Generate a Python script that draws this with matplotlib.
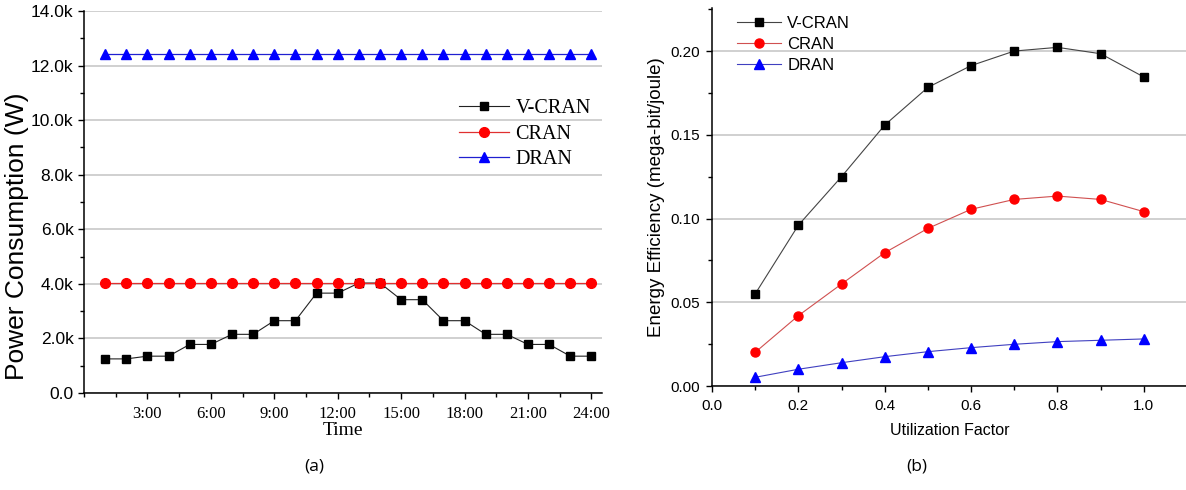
import matplotlib
matplotlib.use("Agg")
import matplotlib.pyplot as plt
from matplotlib.ticker import MultipleLocator, FuncFormatter

# ---- data: panel (a) ----
hours = list(range(1, 25))
time_ticks = [3, 6, 9, 12, 15, 18, 21, 24]
time_labels = ["3:00", "6:00", "9:00", "12:00", "15:00", "18:00", "21:00", "24:00"]
vcran_power = [1.25, 1.25, 1.35, 1.35, 1.78, 1.78, 2.15, 2.15, 2.65, 2.65, 3.66, 3.66,
               4.03, 4.03, 3.42, 3.42, 2.65, 2.65, 2.15, 2.15, 1.78, 1.78, 1.35, 1.35]
cran_power = [4.04] * 24
dran_power = [12.42] * 24

# ---- data: panel (b) ----
util = [0.1, 0.2, 0.3, 0.4, 0.5, 0.6, 0.7, 0.8, 0.9, 1.0]
vcran_ee = [0.055, 0.096, 0.125, 0.1558, 0.1783, 0.1913, 0.200, 0.2022, 0.1984, 0.1845]
cran_ee = [0.0201, 0.042, 0.0609, 0.0796, 0.0941, 0.1055, 0.1114, 0.1134, 0.1114, 0.1041]
dran_ee = [0.0052, 0.0100, 0.0139, 0.0175, 0.0205, 0.0229, 0.0249, 0.0265, 0.0273, 0.0281]
series = ["V-CRAN", "CRAN", "DRAN"]

W, H = 1186, 490
fig = plt.figure(figsize=(W / 100, H / 100), dpi=100)

def box(l, t, r, b):
    return [l / W, 1 - b / H, (r - l) / W, (b - t) / H]

ax1 = fig.add_axes(box(84, 11, 602, 393))
ax2 = fig.add_axes(box(712, 8, 1187, 386))

for ax in (ax1, ax2):
    for s in ("top", "right"):
        ax.spines[s].set_visible(False)
    for s in ("left", "bottom"):
        ax.spines[s].set_linewidth(1.1)
    ax.tick_params(which="major", direction="out", length=4.5, width=1.0, pad=4)
    ax.tick_params(which="minor", direction="out", length=3, width=1.0)
    ax.yaxis.grid(True, which="major", color="#c4c4c4", linewidth=1.1)
    ax.set_axisbelow(True)

# ---- panel (a) ----
ax1.plot(hours, vcran_power, color="#222222", lw=0.8, marker="s", ms=6.3,
         mfc="black", mec="black", label=series[0], zorder=3)
ax1.plot(hours, cran_power, color="#e03030", lw=0.9, marker="o", ms=7,
         mfc="#ff0000", mec="#ff0000", label=series[1], zorder=3)
ax1.plot(hours, dran_power, color="#2020d0", lw=0.9, marker="^", ms=7.3,
         mfc="#0000ff", mec="#0000ff", label=series[2], zorder=3)
ax1.set_xlim(0, 24.5)
ax1.set_ylim(0, 14)
ax1.set_xticks(time_ticks)
ax1.set_xticklabels(time_labels, family="Liberation Serif", fontsize=12)
ax1.xaxis.set_minor_locator(MultipleLocator(1.5))
ax1.yaxis.set_major_locator(MultipleLocator(2))
ax1.yaxis.set_minor_locator(MultipleLocator(1))
ax1.yaxis.set_major_formatter(FuncFormatter(lambda v, p: "0.0" if abs(v) < 1e-9 else f"{v:.1f}k"))
for t in ax1.get_yticklabels():
    t.set_family("Liberation Sans")
    t.set_fontsize(12.5)
ax1.tick_params(axis="x", pad=5)
ax1.tick_params(axis="y", pad=3)
ax1.set_xlabel("Time", family="Liberation Serif", fontsize=14, labelpad=0)
ax1.set_ylabel("Power Consumption (W)", family="Liberation Sans", fontsize=19)
ax1.yaxis.set_label_coords(-0.106, 0.41)
leg1 = ax1.legend(loc="upper left", bbox_to_anchor=(365 / 518, 0.795), frameon=False,
                  prop={"family": "Liberation Serif", "size": 14.5},
                  handlelength=2.5, handletextpad=0.3, labelspacing=0.3, borderpad=0)

# ---- panel (b) ----
ax2.plot(util, vcran_ee, color="#444444", lw=0.8, marker="s", ms=6,
         mfc="black", mec="black", label=series[0], zorder=3)
ax2.plot(util, cran_ee, color="#d05050", lw=0.8, marker="o", ms=6.5,
         mfc="#ff0000", mec="#ff0000", label=series[1], zorder=3)
ax2.plot(util, dran_ee, color="#4040c0", lw=0.8, marker="^", ms=6.5,
         mfc="#0000ff", mec="#0000ff", label=series[2], zorder=3)
ax2.set_xlim(0, 1.1)
ax2.set_ylim(0, 0.2257)
ax2.xaxis.set_major_locator(MultipleLocator(0.2))
ax2.xaxis.set_minor_locator(MultipleLocator(0.1))
ax2.yaxis.set_major_locator(MultipleLocator(0.05))
ax2.yaxis.set_minor_locator(MultipleLocator(0.025))
ax2.xaxis.set_major_formatter(FuncFormatter(lambda v, p: f"{v:.1f}"))
ax2.yaxis.set_major_formatter(FuncFormatter(lambda v, p: f"{v:.2f}"))
for t in ax2.get_xticklabels() + ax2.get_yticklabels():
    t.set_family("Liberation Sans")
    t.set_fontsize(11)
ax2.tick_params(axis="x", pad=5)
ax2.set_xlabel("Utilization Factor", family="Liberation Sans", fontsize=11.5, labelpad=7)
ax2.set_ylabel("Energy Efficiency (mega-bit/joule)", family="Liberation Sans",
               fontsize=13.5, labelpad=4)
leg2 = ax2.legend(loc="upper left", bbox_to_anchor=(17 / 475, 1.0), frameon=False,
                  prop={"family": "Liberation Sans", "size": 12},
                  handlelength=2.6, handletextpad=0.4, labelspacing=0.35, borderpad=0)

fig.text(314 / W, 1 - 466 / H, "(a)", family="Open Sans", fontsize=12.5,
         ha="center", va="center")
fig.text(917 / W, 1 - 466 / H, "(b)", family="Open Sans", fontsize=12.5,
         ha="center", va="center")

fig.savefig("out.png", dpi=100)
